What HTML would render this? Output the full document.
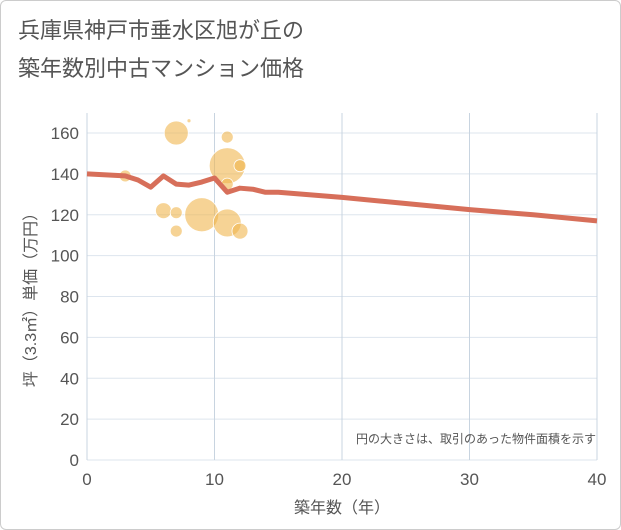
<!DOCTYPE html>
<html><head><meta charset="utf-8"><style>
body{margin:0;background:#fff;font-family:"Liberation Sans","Noto Sans CJK JP",sans-serif}
#wrap{position:relative;width:619px;height:528px;border:1px solid #ccc;border-radius:6px;background:#fff}
</style></head><body>
<div id="wrap">
<svg width="621" height="530" style="position:absolute;left:-1px;top:-1px" id="chart">
<text x="18" y="38" font-size="22" fill="#555" font-family="Liberation Sans,Noto Sans CJK JP,sans-serif">兵庫県神戸市垂水区旭が丘の</text>
<text x="18" y="76" font-size="22" fill="#555" font-family="Liberation Sans,Noto Sans CJK JP,sans-serif">築年数別中古マンション価格</text>
<g id="grid"></g><g id="bubbles"></g><g id="line"></g><g id="axes"></g>
<text x="596" y="443" font-size="12" fill="#555" text-anchor="end" font-family="Liberation Sans,Noto Sans CJK JP,sans-serif">円の大きさは、取引のあった物件面積を示す</text>
<text x="342" y="513" font-size="16" fill="#555" text-anchor="middle" font-family="Liberation Sans,Noto Sans CJK JP,sans-serif">築年数（年）</text>
<text transform="translate(36,296) rotate(-90)" font-size="16" fill="#555" text-anchor="middle" font-family="Liberation Sans,Noto Sans CJK JP,sans-serif">坪（3.3㎡）単価（万円）</text>
</svg></div>
<script>
const xTicks=[0,10,20,30,40];
const yTicks=[0,20,40,60,80,100,120,140,160];
const lineYears=[0,3,4,5,6,7,8,9,10,11,12,13,14,15,20,25,30,35,40];
const linePrices=[140,139,137,133.5,139,135,134.5,136,138,131,133,132.5,131,131,128.5,125.5,122.5,120,117];
const bubbleYears=[7,8,11,11,12,3,11,6,7,9,11,7,12];
const bubblePrices=[160,166,158,144,144,139,135,122,121,120,116,112,112];
const bubbleSizes=[12,2,6,18,6,6,6,8,6,17,14,6,8];
const X0=87,X1=597,Y0=460,Y1=133;
const sx=v=>X0+(X1-X0)*v/40, sy=v=>Y0-(Y0-Y1)*v/160;
const NS="http://www.w3.org/2000/svg";
function mk(t,a,p){const e=document.createElementNS(NS,t);for(const k in a)e.setAttribute(k,a[k]);p.appendChild(e);return e;}
const g=document.getElementById('grid'),ax=document.getElementById('axes');
mk('rect',{x:X0,y:113,width:X1-X0,height:Y0-113,fill:'#fff'},g);
yTicks.forEach(v=>{const l=mk('line',{x1:X0,x2:X1,y1:sy(v),y2:sy(v),stroke:'#dde5ee','stroke-width':1},g);

const t=mk('text',{x:X0-8,y:sy(v)+6,'font-size':17,fill:'#555','text-anchor':'end'},ax);t.textContent=v;
});
xTicks.forEach(v=>{const l=mk('line',{x1:sx(v),x2:sx(v),y1:113,y2:Y0,stroke:'#c8d4e0','stroke-width':1},g);

const t=mk('text',{x:sx(v),y:Y0+25,'font-size':17,fill:'#555','text-anchor':'middle'},ax);t.textContent=v;
});
const b=document.getElementById('bubbles');
bubbleYears.forEach((yr,i)=>{const c=mk('circle',{cx:sx(yr),cy:sy(bubblePrices[i]),r:bubbleSizes[i],fill:'#f0b54f','fill-opacity':0.6,stroke:'#fff','stroke-width':0.8},b);
});
const p=mk('polyline',{points:lineYears.map((y,i)=>sx(y)+','+sy(linePrices[i])).join(' '),fill:'none',stroke:'#d76f5a','stroke-width':5,'stroke-linejoin':'round'},document.getElementById('line'));

</script>
</body></html>
